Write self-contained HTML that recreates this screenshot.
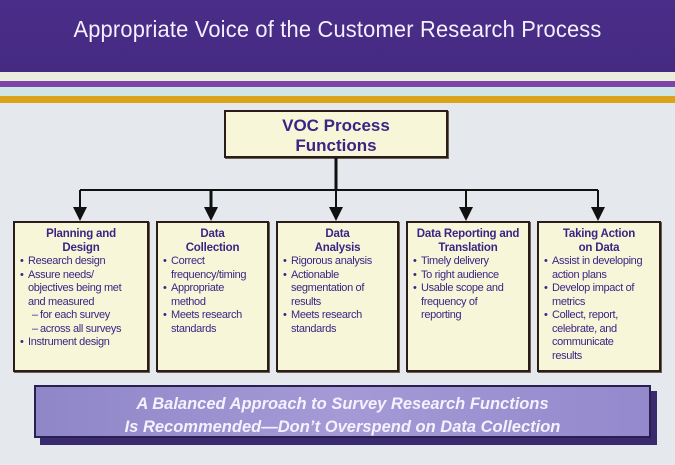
<!DOCTYPE html>
<html><head><style>
*{margin:0;padding:0;box-sizing:border-box}
body{width:675px;height:465px;overflow:hidden;background:#e5e9ed;font-family:"Liberation Sans",sans-serif;position:relative}
.a{position:absolute}
.hdr{left:0;top:0;width:675px;height:72px;background:linear-gradient(#4a2d88,#452a82)}
.ttl{left:0;top:16px;width:675px;text-align:center;color:#f4f0ff;font-size:23px;transform:scaleX(0.95);letter-spacing:0.2px}
.box{background:#f8f6d8;border:2px solid #2a1c18;box-shadow:1px 1px 0 #6a6050}
.bt{color:#3a2585;font-weight:bold;font-size:11.5px;text-align:center;line-height:14px;letter-spacing:-0.2px}
ul{list-style:none;color:#3a2585;font-size:11px;line-height:13.5px;letter-spacing:-0.35px}
li{position:relative;padding-left:10px}
li:before{content:"•";position:absolute;left:2px}
li.s{padding-left:22px}
li.s:before{content:"–";left:14px}
</style></head><body>
<div class="a hdr"></div>
<div class="a ttl">Appropriate Voice of the Customer Research Process</div>
<div class="a" style="left:0;top:72px;width:675px;height:9px;background:#eceedd"></div>
<div class="a" style="left:0;top:81px;width:675px;height:6px;background:#7d45a8"></div>
<div class="a" style="left:0;top:87px;width:675px;height:9px;background:#cfe6e4"></div>
<div class="a" style="left:0;top:96px;width:675px;height:7px;background:#dba21c"></div>

<div class="a box" style="left:224px;top:110px;width:224px;height:48px"></div>
<div class="a" style="left:224px;top:116px;width:224px;text-align:center;color:#3a2585;font-weight:bold;font-size:17px;line-height:20px">VOC Process<br>Functions</div>

<svg class="a" style="left:0;top:0" width="675" height="465">
<g stroke="#111" fill="none">
<line x1="336" y1="158" x2="336" y2="190" stroke-width="3"/>
<line x1="80" y1="190" x2="598" y2="190" stroke-width="2"/>
<line x1="80" y1="190" x2="80" y2="210" stroke-width="2"/>
<line x1="211" y1="190" x2="211" y2="210" stroke-width="3"/>
<line x1="336" y1="190" x2="336" y2="210" stroke-width="2"/>
<line x1="466" y1="190" x2="466" y2="210" stroke-width="2"/>
<line x1="598" y1="190" x2="598" y2="210" stroke-width="2"/>
</g>
<g fill="#111">
<polygon points="73,207 87,207 80,221"/>
<polygon points="204,207 218,207 211,221"/>
<polygon points="329,207 343,207 336,221"/>
<polygon points="459,207 473,207 466,221"/>
<polygon points="591,207 605,207 598,221"/>
</g>
</svg>

<div class="a box" style="left:13px;top:221px;width:136px;height:151px;padding:4px 3px">
<div class="bt">Planning and<br>Design</div>
<ul><li>Research design</li><li>Assure needs/<br>objectives being met<br>and measured</li><li class="s">for each survey</li><li class="s">across all surveys</li><li>Instrument design</li></ul></div>
<div class="a box" style="left:156px;top:221px;width:113px;height:151px;padding:4px 3px">
<div class="bt">Data<br>Collection</div>
<ul><li>Correct<br>frequency/timing</li><li>Appropriate<br>method</li><li>Meets research<br>standards</li></ul></div>
<div class="a box" style="left:276px;top:221px;width:123px;height:151px;padding:4px 3px">
<div class="bt">Data<br>Analysis</div>
<ul><li>Rigorous analysis</li><li>Actionable<br>segmentation of<br>results</li><li>Meets research<br>standards</li></ul></div>
<div class="a box" style="left:406px;top:221px;width:124px;height:151px;padding:4px 3px">
<div class="bt">Data Reporting and<br>Translation</div>
<ul><li>Timely delivery</li><li>To right audience</li><li>Usable scope and<br>frequency of<br>reporting</li></ul></div>
<div class="a box" style="left:537px;top:221px;width:124px;height:151px;padding:4px 3px">
<div class="bt">Taking Action<br>on Data</div>
<ul><li>Assist in developing<br>action plans</li><li>Develop impact of<br>metrics</li><li>Collect, report,<br>celebrate, and<br>communicate<br>results</li></ul></div>

<div class="a" style="left:40px;top:391px;width:617px;height:54px;background:#3a2a70"></div>
<div class="a" style="left:34px;top:385px;width:617px;height:53px;background:linear-gradient(90deg,#8f86c8,#a59ad6 50%,#9389cc);border:2px solid #2a2050"></div>
<div class="a" style="left:34px;top:393px;width:617px;text-align:center;color:#f4f2ff;font-weight:bold;font-style:italic;font-size:16.5px;line-height:23px">A Balanced Approach to Survey Research Functions<br>Is Recommended—Don’t Overspend on Data Collection</div>
</body></html>
